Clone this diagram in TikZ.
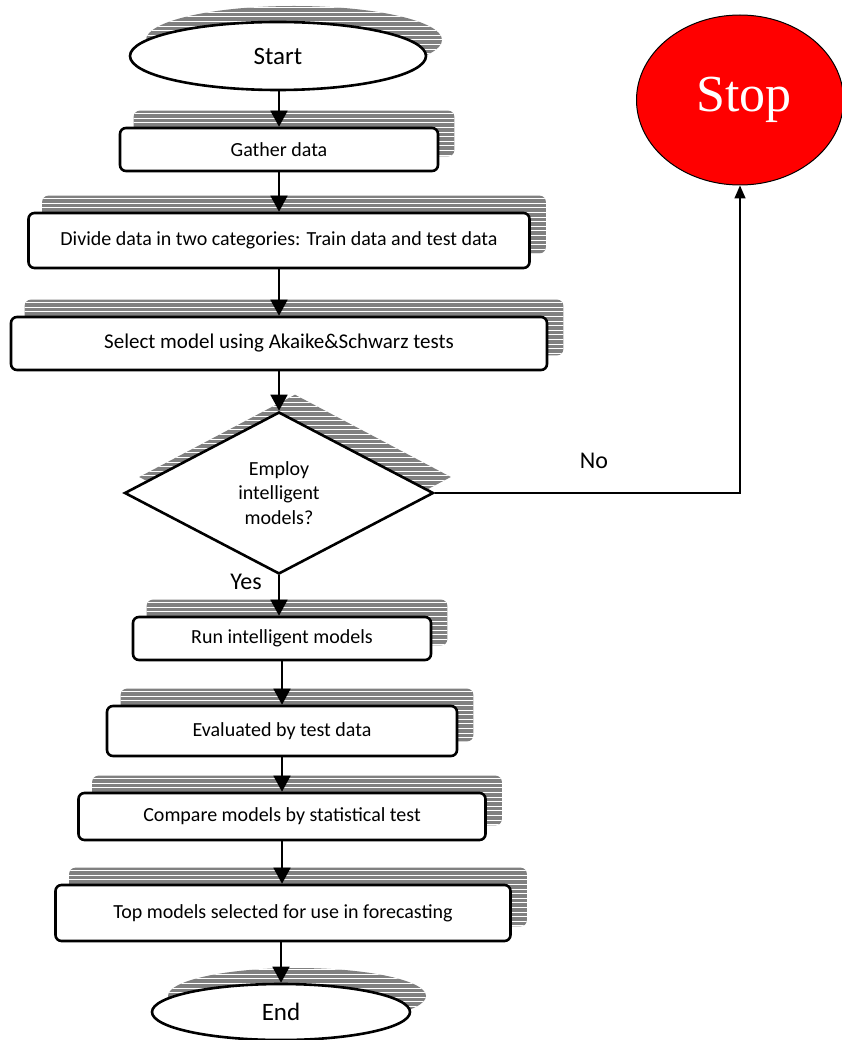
\documentclass[tikz,border=0pt]{standalone}
\usepackage{fontspec}
\setmainfont{Carlito}
\newfontfamily\stopfont{Liberation Serif}
\usetikzlibrary{shapes.geometric,arrows.meta,calc}
\pgfdeclarelayer{shbg}
\pgfdeclarelayer{arr}
\pgfdeclarelayer{stripes}
\pgfsetlayers{shbg,stripes,arr,main}
\definecolor{shgray}{HTML}{808080}
\definecolor{stopred}{HTML}{FF0000}
\tikzset{
  box/.style={draw, line width=2.6pt, rounded corners=6pt, fill=white, inner sep=0pt,
    font=\fontsize{20}{24}\selectfont, anchor=center},
  term/.style={ellipse, draw, line width=2.6pt, fill=white, inner sep=0pt,
    font=\fontsize{25}{29}\selectfont},
  decis/.style={diamond, draw, line width=2.6pt, fill=white, inner sep=0pt, align=center,
    font=\fontsize{20}{24.5}\selectfont},
  shfill/.style={fill=shgray},
  stripe/.style={draw=white, line width=1.1pt},
  conn/.style={line width=1.7pt, -{Triangle[width=17pt,length=16pt]}},
  lbl/.style={font=\fontsize{24}{28}\selectfont, inner sep=0pt},
}
% #1 node, #2 shadow path (with offset applied)
\newcommand\stripes[2]{%
  \begin{pgfonlayer}{shbg}
    \fill[shfill] #2;
  \end{pgfonlayer}
  \begin{pgfonlayer}{stripes}
    \begin{scope}
      \clip #2;
      \foreach \k in {0,...,40}
        \draw[stripe] ($(#1.north -| #1.west)+(-10,-16)+(0,\k*4.6+3)$) -- ++(620,0);
    \end{scope}
  \end{pgfonlayer}}
\newcommand\boxshadow[1]{%
  \stripes{#1}{[rounded corners=6pt] ($(#1.south west)+(15,-16)$) rectangle ($(#1.north east)+(15,-16)$)}}
\newcommand\ellshadow[3]{%
  \stripes{#1}{($(#1.center)+(16,-16)$) ellipse [x radius=#2pt, y radius=#3pt]}}
\begin{document}
\begin{tikzpicture}[x=1pt, y=-1pt]
\useasboundingbox (0,0) rectangle (841,1040);

% nodes
\node[term, minimum width=296pt, minimum height=68pt] (start) at (278,56) {Start};
\node[box, minimum width=318pt, minimum height=43pt] (gather) at (279,149.5) {Gather data};
\node[box, minimum width=501pt, minimum height=55pt] (divide) at (279,240.5) {Divide data in two categories: Train data and test data};
\node[box, minimum width=536pt, minimum height=53pt, font=\fontsize{21}{25}\selectfont] (select) at (279,343.5) {Select model using Akaike\&Schwarz tests};
\node[decis, minimum width=309pt, minimum height=162pt] (dec) at (279,493) {Employ\\intelligent\\models?};
\node[box, minimum width=298pt, minimum height=43pt] (run) at (282,638.5) {Run intelligent models};
\node[box, minimum width=350pt, minimum height=50pt] (eval) at (282,731) {Evaluated by test data};
\node[box, minimum width=407pt, minimum height=47pt] (comp) at (282,816.5) {Compare models by statistical test};
\node[box, minimum width=455pt, minimum height=56pt] (topm) at (283,913) {Top models selected for use in forecasting};
\node[term, minimum width=258pt, minimum height=56pt] (endn) at (281,1012) {End};
\node[ellipse, draw, line width=1pt, fill=stopred, inner sep=0pt, minimum width=207pt, minimum height=170pt,
      text=white, font=\stopfont\fontsize{52}{60}\selectfont] (stop) at (740,100) {\hspace*{8pt}Stop};
\node[lbl] (no) at (594,461) {No};
\node[lbl] (yes) at (246,582) {Yes};

% shadows
\ellshadow{start}{148}{34}
\boxshadow{gather}
\boxshadow{divide}
\boxshadow{select}
\stripes{dec}{($(dec.north)+(16,-16)$) -- ($(dec.east)+(16,-16)$) -- ($(dec.south)+(16,-16)$) -- ($(dec.west)+(16,-16)$) -- cycle}
\boxshadow{run}
\boxshadow{eval}
\boxshadow{comp}
\boxshadow{topm}
\ellshadow{endn}{129}{28}

% connectors
\begin{pgfonlayer}{arr}
  \draw[conn] (start.south -| gather.north) -- (gather.north);
  \draw[conn] (gather.south) -- (gather.south |- divide.north);
  \draw[conn] (divide.south) -- (divide.south |- select.north);
  \draw[conn] (select.south) -- (select.south |- dec.north);
  \draw[conn] (dec.south) -- (dec.south |- run.north);
  \draw[conn] (run.south) -- (run.south |- eval.north);
  \draw[conn] (eval.south) -- (eval.south |- comp.north);
  \draw[conn] (comp.south) -- (comp.south |- topm.north);
  \draw[conn] (topm.south -| endn.north) -- (endn.north);
  \draw[line width=1.5pt, -{Triangle[width=11pt,length=13pt]}] (dec.east) -- (dec.east -| stop.south) -- (stop.south);
\end{pgfonlayer}
\end{tikzpicture}
\end{document}
